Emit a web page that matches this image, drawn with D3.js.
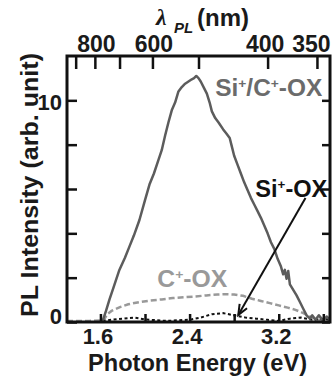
<!DOCTYPE html>
<html><head><meta charset="utf-8">
<script src="https://cdn.jsdelivr.net/npm/d3@7"></script>
<style>
body{margin:0;background:#fff;}
text{font-family:"Liberation Sans",Arial,Helvetica,sans-serif;font-weight:bold;}
</style></head>
<body><svg id="c" width="333" height="378"></svg>
<script>
// ---- data ----
const energyTicks = [1.6, 2.0, 2.4, 2.8, 3.2, 3.6];
const energyLabels = [1.6, 2.4, 3.2];
const intensityTicks = [0, 2, 4, 6, 8, 10];
const intensityLabels = [0, 10];
const wavelengthTicks = [900, 800, 700, 600, 500, 400, 350];
const wavelengthLabels = [800, 600, 400, 350];

const siCEnergy = [1.60,1.62,1.65,1.68,1.72,1.77,1.82,1.86,1.90,1.95,2.00,2.04,2.08,2.12,2.15,2.18,2.21,2.24,2.27,2.30,2.33,2.36,2.39,2.42,2.44,2.46,2.48,2.50,2.53,2.555,2.58,2.60,2.63,2.66,2.70,2.73,2.76,2.78,2.80,2.83,2.86,2.89,2.92,2.95,2.98,3.01,3.04,3.07,3.10,3.13,3.16,3.19,3.22,3.24,3.255,3.27,3.285,3.30,3.33,3.36,3.39,3.42,3.45,3.48,3.50,3.53,3.56,3.60,3.63,3.66];
const siCIntensity = [0,0.05,0.5,1.0,1.6,2.35,2.9,3.4,3.9,4.6,5.5,6.2,6.7,7.3,7.75,8.4,9.0,9.55,9.9,10.4,10.6,10.75,10.85,10.95,11.0,11.1,11.0,10.85,10.55,10.3,9.9,9.5,9.2,9.0,8.7,8.5,8.3,7.9,7.5,7.1,6.7,6.3,5.95,5.6,5.3,5.0,4.7,4.35,4.0,3.6,3.3,2.85,2.5,2.15,2.35,1.95,2.3,1.7,1.45,1.2,0.9,0.6,0.3,0.15,0.3,0.1,0.3,0.05,0.25,0.1];

const cEnergy = [1.30,1.50,1.63,1.66,1.70,1.78,1.85,1.95,2.05,2.15,2.25,2.35,2.45,2.55,2.65,2.72,2.80,2.88,2.96,3.04,3.12,3.20,3.28,3.35,3.42,3.48,3.55,3.66];
const cIntensity = [0.05,0.05,0.08,0.35,0.5,0.68,0.8,0.9,0.97,1.02,1.08,1.12,1.15,1.2,1.24,1.25,1.24,1.18,1.05,0.95,0.85,0.75,0.65,0.55,0.4,0.25,0.1,0.05];

const siEnergy = [1.62,1.70,1.80,1.90,2.00,2.10,2.20,2.30,2.40,2.50,2.60,2.70,2.80,2.90,3.00,3.10,3.20,3.30,3.40,3.50,3.60,3.66];
const siIntensity = [0.05,0.1,0.15,0.2,0.12,0.08,0.05,0.08,0.1,0.2,0.35,0.4,0.3,0.2,0.15,0.1,0.05,0.15,0.2,0.1,0.15,0.1];

// ---- layout ----
const L = 67, R = 330, T = 56, B = 322;
const FONT = '"Liberation Sans",Arial,sans-serif';
const svg = d3.select("#c");
const x = d3.scaleLinear().domain([1.3, 3.66]).range([L, R]);
const y = d3.scaleLinear().domain([0, 12]).range([B, T]);

const line = d3.line().x(d => x(d[0])).y(d => y(d[1]));
const zip = (a, b) => a.map((v, i) => [v, b[i]]);

// curves
svg.append("path").datum(zip(cEnergy, cIntensity)).attr("d", line)
  .attr("fill", "none").attr("stroke", "#999").attr("stroke-width", 2.5)
  .attr("stroke-dasharray", "6,3");
svg.append("path").datum(zip(siEnergy, siIntensity)).attr("d", line)
  .attr("fill", "none").attr("stroke", "#111").attr("stroke-width", 2)
  .attr("stroke-dasharray", "3,2.5");
svg.append("path").datum(zip(siCEnergy, siCIntensity)).attr("d", line)
  .attr("fill", "none").attr("stroke", "#5c5c5c").attr("stroke-width", 2.5)
  .attr("stroke-linejoin", "round");

// axes
function styleAxis(g, fs){
  g.selectAll(".domain").remove();
  g.selectAll(".tick line").attr("stroke", "#111").attr("stroke-width", 2.5);
  g.selectAll(".tick text").attr("fill", "#1a1a1a").style("font-size", fs + "px")
    .style("font-family", FONT).style("font-weight", "bold");
}
const gB = svg.append("g").attr("transform", `translate(0,${B})`)
  .call(d3.axisBottom(x).tickValues(energyTicks).tickSizeInner(-8).tickSizeOuter(0).tickPadding(6)
    .tickFormat(d => energyLabels.includes(d) ? d3.format(".1f")(d) : ""));
styleAxis(gB, 22);
gB.selectAll(".tick text").attr("dx", -3);
const gT = svg.append("g").attr("transform", `translate(0,${T})`)
  .call(d3.axisTop(x).tickValues(wavelengthTicks.map(l => 1240 / l)).tickSizeInner(-13).tickSizeOuter(0).tickPadding(4)
    .tickFormat(d => { const l = Math.round(1240 / d); return wavelengthLabels.includes(l) ? l : ""; }));
styleAxis(gT, 23);
gT.selectAll(".tick text").attr("dx", d => { const l = Math.round(1240 / d); return l === 350 ? -6 : (l === 400 ? -3 : 1); });
const gL = svg.append("g").attr("transform", `translate(${L},0)`)
  .call(d3.axisLeft(y).tickValues(intensityTicks).tickSizeInner(-10).tickSizeOuter(0).tickPadding(5)
    .tickFormat(d => intensityLabels.includes(d) ? d : ""));
styleAxis(gL, 22);
gL.selectAll(".tick text").attr("dy", d => d === 0 ? "0.05em" : "0.4em");
const gR = svg.append("g").attr("transform", `translate(${R},0)`)
  .call(d3.axisRight(y).tickValues(intensityTicks).tickSizeInner(-8).tickSizeOuter(0).tickFormat(""));
styleAxis(gR, 22);

// frame
svg.append("rect").attr("x", L).attr("y", T).attr("width", R - L).attr("height", B - T)
  .attr("fill", "none").attr("stroke", "#111").attr("stroke-width", 3);

// arrow
const a0 = [3.44, 5.59], a1 = [2.837, 0.32];
const ax0 = x(a0[0]), ay0 = y(a0[1]), ax1 = x(a1[0]), ay1 = y(a1[1]);
svg.append("line").attr("x1", ax0).attr("y1", ay0).attr("x2", ax1).attr("y2", ay1)
  .attr("stroke", "#111").attr("stroke-width", 2);
const ang = Math.atan2(ay1 - ay0, ax1 - ax0), hl = 11, hw = 0.4;
svg.append("path").attr("d",
  `M${ax1 - hl*Math.cos(ang - hw)},${ay1 - hl*Math.sin(ang - hw)}L${ax1},${ay1}L${ax1 - hl*Math.cos(ang + hw)},${ay1 - hl*Math.sin(ang + hw)}`)
  .attr("fill", "none").attr("stroke", "#111").attr("stroke-width", 2);

// series labels
function label(px, py, color, parts, width){
  const t = svg.append("text").attr("x", px).attr("y", py).attr("fill", color).style("font-size", "23px");
  parts.forEach(p => {
    if (p.sup) t.append("tspan").attr("dy", -8).style("font-size", "13px").text(p.t);
    else t.append("tspan").attr("dy", p.after ? 8 : 0).text(p.t);
  });
  if (width) t.attr("textLength", width).attr("lengthAdjust", "spacingAndGlyphs");
}
label(x(2.63), y(10.2), "#6b6b6b", [{t:"Si"},{t:"+",sup:1},{t:"/C",after:1},{t:"+",sup:1},{t:"-OX",after:1}], 107);
label(x(2.99), y(5.63), "#111", [{t:"Si"},{t:"+",sup:1},{t:"-OX",after:1}], 72);
label(x(2.11), y(1.58), "#999", [{t:"C"},{t:"+",sup:1},{t:"-OX",after:1}], 70);

// axis titles
svg.append("text").attr("x", 88).attr("y", 371)
  .attr("fill", "#1a1a1a").style("font-size", "23px")
  .attr("textLength", 219).attr("lengthAdjust", "spacingAndGlyphs").text("Photon Energy (eV)");
svg.append("text").attr("transform", "translate(38,317) rotate(-90)")
  .attr("fill", "#1a1a1a").style("font-size", "23px")
  .attr("textLength", 264).attr("lengthAdjust", "spacingAndGlyphs").text("PL Intensity (arb. unit)");
svg.append("text").attr("x", 156).attr("y", 25).attr("fill", "#1a1a1a")
  .style("font-size", "24px").style("font-style", "italic").style("font-family", '"Liberation Serif",serif').text("λ");
svg.append("text").attr("x", 174).attr("y", 33).attr("fill", "#1a1a1a")
  .style("font-size", "15px").style("font-style", "italic").text("PL");
svg.append("text").attr("x", 197).attr("y", 26).attr("fill", "#1a1a1a")
  .style("font-size", "24px").text("(nm)");
</script></body></html>
